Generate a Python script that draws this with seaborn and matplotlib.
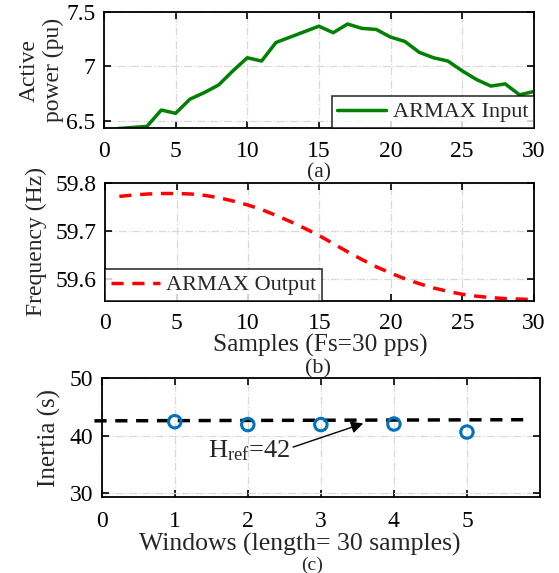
import matplotlib
matplotlib.use("Agg")
import matplotlib.pyplot as plt
import numpy as np
import pandas as pd
import seaborn as sns

# data
samples = list(range(1, 31))
active_power = [6.43, 6.44, 6.45, 6.60, 6.57, 6.70, 6.76, 6.83, 6.96, 7.08,
                7.05, 7.22, 7.27, 7.32, 7.37, 7.31, 7.39, 7.35, 7.34, 7.27,
                7.23, 7.13, 7.08, 7.05, 6.96, 6.88, 6.82, 6.84, 6.74, 6.77]
frequency = [59.772, 59.775, 59.777, 59.778, 59.778, 59.777, 59.774, 59.769,
             59.762, 59.754, 59.744, 59.732, 59.719, 59.705, 59.690, 59.673,
             59.656, 59.640, 59.625, 59.612, 59.600, 59.590, 59.581, 59.574,
             59.568, 59.564, 59.561, 59.559, 59.558, 59.557]
windows = [1, 2, 3, 4, 5]
inertia = [42.4, 41.9, 41.9, 42.0, 40.6]
href_x = [-0.1, 5.85]
href_y = [42.55, 42.75]

sns.set_style("ticks")
plt.rcParams['font.family'] = ['Liberation Serif', 'DejaVu Serif']
plt.rcParams['mathtext.fontset'] = 'custom'
plt.rcParams['mathtext.rm'] = 'Liberation Serif'
plt.rcParams['mathtext.it'] = 'Liberation Serif'
FS = 17
W, H = 559, 573

fig = plt.figure(figsize=(5.59, 5.73), dpi=100)
ax1 = fig.add_axes([0.186, 0.7766, 0.769, 0.2024])
ax2 = fig.add_axes([0.188, 0.4747, 0.767, 0.206])
ax3 = fig.add_axes([0.182, 0.1326, 0.784, 0.2077])


def style_axes(ax):
    ax.grid(True, color='#d9d9d9', linestyle='-.', linewidth=0.9)
    ax.set_axisbelow(True)
    for s in ax.spines.values():
        s.set_visible(True)
        s.set_linewidth(1.3)
        s.set_color('black')
    ax.tick_params(direction='in', length=5, width=1.2, top=True, right=True,
                   labelsize=FS, colors='black', pad=6)
    ax.tick_params(axis='x', pad=9)
    ax.set_xlabel('')


def caption(x, y, s, size=16):
    # x, y in picture pixels from the top-left
    fig.text(x / W, 1 - y / H, s, fontsize=size, ha='center', va='center')


def boxed_legend(ax, loc):
    leg = ax.legend(loc=loc, fontsize=FS - 1, frameon=True, fancybox=False,
                    borderaxespad=0, handlelength=2.2, borderpad=0.25,
                    handletextpad=0.3)
    leg.get_frame().set_edgecolor('black')
    leg.get_frame().set_linewidth(1.2)


# (a) active power
df1 = pd.DataFrame({'s': samples, 'p': active_power})
sns.lineplot(data=df1, x='s', y='p', ax=ax1, color='#008000', linewidth=2.5,
             label='ARMAX Input')
ax1.set_xlim(0, 30)
ax1.set_ylim(6.435, 7.5)
ax1.set_xticks(range(0, 31, 5))
ax1.set_yticks([6.5, 7, 7.5])
ax1.set_yticklabels(['6.5', '7', '7.5'])
style_axes(ax1)
ax1.tick_params(axis='x', pad=9.5)
ax1.set_ylabel('Active\npower (pu)', fontsize=FS, linespacing=1.15, labelpad=2)
boxed_legend(ax1, 'lower right')
caption(319, 173, '(a)', size=15.5)

# (b) frequency
df2 = pd.DataFrame({'s': samples, 'f': frequency})
sns.lineplot(data=df2, x='s', y='f', ax=ax2, color='#ff0000', linewidth=2.5,
             linestyle=(0, (3.5, 2.5)), label='ARMAX Output')
ax2.set_xlim(0, 30)
ax2.set_ylim(59.554, 59.8)
ax2.set_xticks(range(0, 31, 5))
ax2.set_yticks([59.6, 59.7, 59.8])
style_axes(ax2)
ax2.set_ylabel('Frequency (Hz)', fontsize=FS, labelpad=6)
boxed_legend(ax2, 'lower left')
caption(320, 345, 'Samples (Fs=30 pps)', size=18.3)
caption(318, 369, '(b)')

# (c) inertia
df3 = pd.DataFrame({'w': windows, 'h': inertia})
ax3.plot(href_x, href_y, color='black', linestyle=(0, (3.5, 2.5)),
         linewidth=2.5, clip_on=False, zorder=3)
sns.scatterplot(data=df3, x='w', y='h', ax=ax3, marker='o', s=80,
                facecolor='none', edgecolor='#0072BD', linewidth=2.2, zorder=4)
ax3.set_xlim(0, 6)
ax3.set_ylim(29.3, 50)
ax3.set_xticks([0, 1, 2, 3, 4, 5])
ax3.set_yticks([30, 40, 50])
style_axes(ax3)
ax3.tick_params(axis='x', pad=10)
ax3.set_ylabel('Inertia (s)', fontsize=FS + 1, labelpad=6)
ax3.annotate(r'H$_{\mathrm{ref}}$=42', xy=(3.58, 42.1), xytext=(1.45, 36.2),
             fontsize=FS + 2, ha='left', va='baseline',
             arrowprops=dict(arrowstyle='-|>', color='black', lw=1,
                             mutation_scale=18, shrinkA=0, shrinkB=0,
                             relpos=(1.0, 0.6)))
caption(300, 544, 'Windows (length= 30 samples)', size=18.5)
caption(312, 565, '(c)', size=14)

fig.savefig('out.png', dpi=100)
